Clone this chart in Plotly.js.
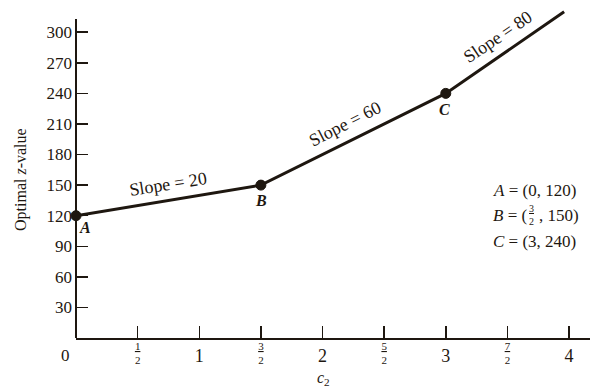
<!DOCTYPE html>
<html><head><meta charset="utf-8">
<script src="https://cdn.plot.ly/plotly-3.0.1.min.js"></script>
<style>html,body{margin:0;padding:0;background:#fff}#chart{width:592px;height:388px}</style>
</head><body><div id="chart"></div>
<script>
// data
const cValues = [0, 1.5, 3, 3.96];
const zValues = [120, 150, 240, 320];
const markerSizes = [10, 10, 10, 0];
const yTicks = [30, 60, 90, 120, 150, 180, 210, 240, 270, 300];
const xIntTicks = [1, 2, 3, 4];
const xIntLabels = ['1', '2', '3', '4'];
const xHalfTicks = [0.5, 1.5, 2.5, 3.5];
const xHalfLabels = ['<u>1</u><br>2', '<u>3</u><br>2', '<u>5</u><br>2', '<u>7</u><br>2'];
const pointNames = ['A', 'B', 'C'];
const pointLabelPos = [[0.07, 108], [1.5, 135], [2.99, 224]];
const slopeTexts = ['Slope = 20', 'Slope = 60', 'Slope = 80'];
const slopePos = [[0.75, 151, -9], [2.18, 210, -27], [3.42, 295, -34]];

const ink = '#1e1710';
const serif = 'Liberation Serif, Times New Roman, serif';

// pixel frame helpers (for text placement only)
const L = 76, R = 2, T = 10, B = 50, W = 592, H = 388;
const px2paperX = p => (p - L) / (W - L - R);
const px2paperY = p => (H - B - p) / (H - T - B);

const trace = {
  x: cValues, y: zValues, type: 'scatter', mode: 'lines+markers',
  line: {color: ink, width: 3},
  marker: {color: ink, opacity: 1, size: markerSizes, line: {color: ink, width: 1}},
  cliponaxis: false,
  hoverinfo: 'none', showlegend: false
};

const annotations = [];
const addText = (x, y, text, opts) => annotations.push(Object.assign({
  x: px2paperX(x), y: px2paperY(y), xref: 'paper', yref: 'paper', showarrow: false,
  text: text, xanchor: 'left', yanchor: 'middle',
  font: {family: serif, size: 17, color: ink}
}, opts || {}));

pointNames.forEach((n, i) => annotations.push({
  x: pointLabelPos[i][0], y: pointLabelPos[i][1], xref: 'x', yref: 'y',
  text: '<b><i>' + n + '</i></b>', showarrow: false,
  font: {family: serif, size: 16, color: ink}
}));
slopeTexts.forEach((t, i) => annotations.push({
  x: slopePos[i][0], y: slopePos[i][1], xref: 'x', yref: 'y',
  text: t, textangle: slopePos[i][2], showarrow: false,
  font: {family: serif, size: 18, color: ink}
}));
addText(491, 190, '<i>A</i> = (0, 120)');
addText(491, 215.5, '<i>B</i> = (');
addText(531, 215.5, '<u>3</u><br>2', {xanchor: 'center', font: {family: serif, size: 10, color: ink}});
addText(537, 215.5, ', 150)');
addText(491, 241, '<i>C</i> = (3, 240)');
annotations.push({
  x: 0, y: 0, xref: 'x', yref: 'y', text: '0', showarrow: false,
  xanchor: 'right', yanchor: 'top', xshift: -4, yshift: -6,
  font: {family: serif, size: 17, color: ink}
});
addText(323, 378, '<i>c</i><sub>2</sub>', {xanchor: 'center', font: {family: serif, size: 16, color: ink}});
addText(21, 180, 'Optimal <i>z</i>-value', {xanchor: 'center', textangle: -90, font: {family: serif, size: 16, color: ink}});

const layout = {
  width: W, height: H,
  margin: {l: L, r: R, t: T, b: B},
  paper_bgcolor: '#fff', plot_bgcolor: '#fff',
  font: {family: serif, color: ink},
  xaxis: {
    range: [0, 4.17], showgrid: false, zeroline: false,
    showline: true, linecolor: ink, linewidth: 2,
    ticks: 'inside', ticklen: 12, tickwidth: 1.5, tickcolor: ink,
    tickvals: xIntTicks, ticktext: xIntLabels,
    tickfont: {family: serif, size: 18, color: ink}
  },
  xaxis2: {
    overlaying: 'x', anchor: 'y', side: 'bottom', range: [0, 4.17],
    showgrid: false, zeroline: false, showline: false,
    ticks: 'inside', ticklen: 12, tickwidth: 1.5, tickcolor: ink,
    tickvals: xHalfTicks, ticktext: xHalfLabels,
    tickfont: {family: serif, size: 11, color: ink}
  },
  yaxis: {
    range: [0, 321.8], showgrid: false, zeroline: false,
    showline: false,
    ticks: 'inside', ticklen: 12, tickwidth: 1.5, tickcolor: ink,
    tickvals: yTicks, tickfont: {family: serif, size: 17, color: ink},
    ticklabelstandoff: 3
  },
  shapes: [{
    type: 'line', xref: 'paper', yref: 'paper', x0: 0, x1: 0, y0: 0, y1: px2paperY(19),
    line: {color: ink, width: 2}
  }],
  annotations: annotations
};

const trace2 = {x: [0], y: [0], xaxis: 'x2', yaxis: 'y', mode: 'markers', marker: {opacity: 0}, showlegend: false, hoverinfo: 'none'};
Plotly.newPlot('chart', [trace, trace2], layout, {staticPlot: true, displayModeBar: false});
</script></body></html>
